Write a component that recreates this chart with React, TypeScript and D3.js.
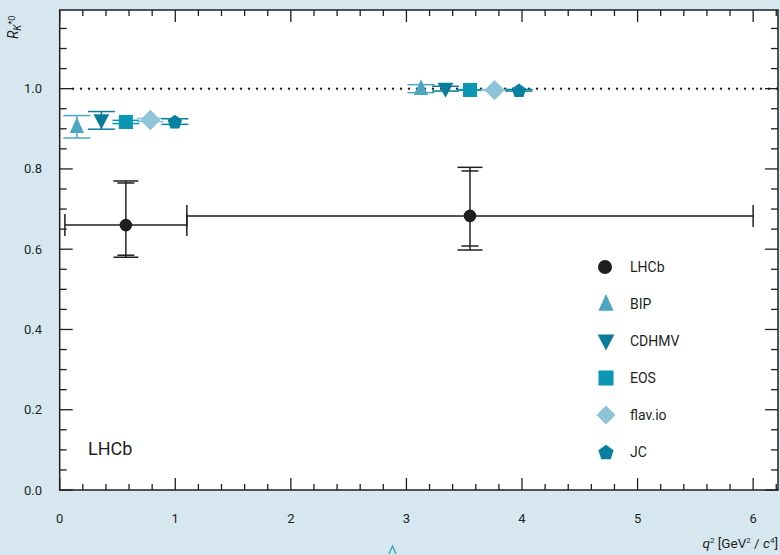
import React from "react";
import * as d3 from "d3";

// ---- data ----
const models = ["BIP", "CDHMV", "EOS", "flav.io", "JC"];
const modelColors = ["#4ca6c0", "#0a7c9a", "#0b96b3", "#8ec3d8", "#05809f"];
const modelShapes = ["triangleUp", "triangleDown", "square", "diamond", "pentagon"];
const lowBinValues = [0.905, 0.921, 0.917, 0.922, 0.918];
const lowBinErrors = [0.028, 0.022, 0.004, 0.004, 0.007];
const centralBinValues = [1.0, 1.0, 0.9968, 0.9964, 0.996];
const centralBinErrors = [0.01, 0.006, 0.0008, 0.0008, 0.002];

const binLow = [0.045, 1.1];
const binHigh = [1.1, 6.0];
const lhcbValues = [0.66, 0.683];
const lhcbStatUp = [0.105, 0.112];
const lhcbStatDown = [0.075, 0.075];
const lhcbTotUp = [0.11, 0.121];
const lhcbTotDown = [0.08, 0.085];

const xTicksMajor = [0, 1, 2, 3, 4, 5, 6];
const yTicksMajor = [0, 0.2, 0.4, 0.6, 0.8, 1.0];

const W = 780, H = 555;
const left = 59.7, right = 778, top = 10, bottom = 490;
const x = d3.scaleLinear().domain([0, 6.215]).range([left, right]);
const y = d3.scaleLinear().domain([0, 1.196]).range([bottom, top]);

const FONT = "Roboto, 'DejaVu Sans', sans-serif";
const INK = "#1f1f1f";

function shapePath(shape: string, s: number): string {
  switch (shape) {
    case "triangleUp": {
      const w = s * 0.95, h = s * 1.05;
      return `M0,${-h * 0.6}L${w / 2},${h * 0.4}L${-w / 2},${h * 0.4}Z`;
    }
    case "triangleDown": {
      const w = s * 1.05, h = s * 1.0;
      return `M0,${h * 0.6}L${w / 2},${-h * 0.4}L${-w / 2},${-h * 0.4}Z`;
    }
    case "square": {
      const a = s * 0.47;
      return `M${-a},${-a}H${a}V${a}H${-a}Z`;
    }
    case "diamond": {
      const a = s * 0.68;
      return `M0,${-a}L${a},0L0,${a}L${-a},0Z`;
    }
    case "pentagon": {
      const r = s * 0.5;
      const pts = d3.range(5).map((i) => {
        const ang = -Math.PI / 2 + (i * 2 * Math.PI) / 5;
        return [r * Math.cos(ang), r * Math.sin(ang) + r * 0.1];
      });
      return "M" + pts.map((p) => p.join(",")).join("L") + "Z";
    }
  }
  return "";
}

function TheoryBin({ center, values, errors }: { center: number; values: number[]; errors: number[] }) {
  const spacing = 0.212;
  return (
    <g>
      {values.map((v, i) => {
        const cx = x(center + (i - 2) * spacing);
        const yHi = y(v + errors[i]);
        const yLo = y(v - errors[i]);
        const c = modelColors[i];
        return (
          <g key={i}>
            <line x1={cx} x2={cx} y1={yHi} y2={yLo} stroke={c} strokeWidth={1.5} />
            <line x1={cx - 13.5} x2={cx + 13.5} y1={yHi} y2={yHi} stroke={c} strokeWidth={1.5} />
            <line x1={cx - 13.5} x2={cx + 13.5} y1={yLo} y2={yLo} stroke={c} strokeWidth={1.5} />
            <path d={shapePath(modelShapes[i], 15)} transform={`translate(${cx},${y(v)})`} fill={c} />
          </g>
        );
      })}
    </g>
  );
}

export default function App() {
  const xMinor = d3.range(0, 6.21, 0.2).filter((v) => Math.abs(v - Math.round(v)) > 1e-6);
  const yMinor = d3.range(0, 1.196, 0.05).filter((v) => Math.abs(v * 5 - Math.round(v * 5)) > 1e-6);

  const legendEntries = [{ name: "LHCb", color: "#1e1e1e", shape: "circle" }].concat(
    models.map((m, i) => ({ name: m, color: modelColors[i], shape: modelShapes[i] }))
  );

  return (
    <svg width={W} height={H} style={{ position: "absolute", left: 0, top: 0, display: "block" }} fontFamily={FONT}>
      <rect x={0} y={0} width={W} height={H} fill="#d6e7ef" />
      <rect x={left} y={top} width={right - left} height={bottom - top} fill="#fff" />

      {/* dotted line at 1.0 */}
      <line x1={x(0.115)} x2={right} y1={y(1)} y2={y(1)} stroke={INK} strokeWidth={2.4}
        strokeDasharray="0 8" strokeLinecap="round" />

      {/* ticks */}
      <g stroke={INK} strokeWidth={1.3}>
        {xTicksMajor.map((t) => (
          <g key={"xm" + t}>
            <line x1={x(t)} x2={x(t)} y1={bottom} y2={bottom - 12} />
            <line x1={x(t)} x2={x(t)} y1={top} y2={top + 12} />
          </g>
        ))}
        {xMinor.map((t) => (
          <g key={"xn" + t}>
            <line x1={x(t)} x2={x(t)} y1={bottom} y2={bottom - 6} />
            <line x1={x(t)} x2={x(t)} y1={top} y2={top + 6} />
          </g>
        ))}
        {yTicksMajor.map((t) => (
          <g key={"ym" + t}>
            <line x1={left} x2={left + 13} y1={y(t)} y2={y(t)} />
            <line x1={right} x2={right - 13} y1={y(t)} y2={y(t)} />
          </g>
        ))}
        {yMinor.map((t) => (
          <g key={"yn" + t}>
            <line x1={left} x2={left + 7} y1={y(t)} y2={y(t)} />
            <line x1={right} x2={right - 7} y1={y(t)} y2={y(t)} />
          </g>
        ))}
      </g>

      {/* frame */}
      <rect x={left} y={top} width={right - left} height={bottom - top} fill="none" stroke={INK} strokeWidth={1.5} />

      {/* tick labels */}
      <g fontSize={13} fill={INK}>
        {xTicksMajor.map((t) => (
          <text key={"xl" + t} x={x(t)} y={523} textAnchor="middle">{t}</text>
        ))}
        {yTicksMajor.map((t) => (
          <text key={"yl" + t} x={42} y={y(t) + 4.5} textAnchor="end">{d3.format(".1f")(t)}</text>
        ))}
      </g>

      {/* axis titles */}
      <text x={right} y={548} textAnchor="end" fontSize={13.5} fill={INK}>
        <tspan fontStyle="italic">q</tspan>
        <tspan fontSize={8} dy={-5}>2</tspan>
        <tspan dy={5}> [GeV</tspan>
        <tspan fontSize={8} dy={-5}>2</tspan>
        <tspan dy={5}> / </tspan>
        <tspan fontStyle="italic">c</tspan>
        <tspan fontSize={8} dy={-5}>4</tspan>
        <tspan dy={5}>]</tspan>
      </text>
      <text transform="translate(18,39) rotate(-90)" fontSize={14} fill={INK} textAnchor="start">
        <tspan fontStyle="italic">R</tspan>
        <tspan fontStyle="italic" fontSize={10} dy={3}>K</tspan>
        <tspan fontSize={9} dy={-6}>*0</tspan>
      </text>

      {/* theory predictions */}
      <TheoryBin center={(binLow[0] + binHigh[0]) / 2} values={lowBinValues} errors={lowBinErrors} />
      <TheoryBin center={(binLow[1] + binHigh[1]) / 2} values={centralBinValues} errors={centralBinErrors} />

      {/* LHCb measurements */}
      <g stroke={INK} strokeWidth={1.5}>
        {lhcbValues.map((v, i) => {
          const cx = x((binLow[i] + binHigh[i]) / 2);
          const cy = y(v);
          return (
            <g key={i}>
              <line x1={x(binLow[i])} x2={x(binHigh[i])} y1={cy} y2={cy} />
              <line x1={x(binLow[i])} x2={x(binLow[i])} y1={cy - 11} y2={cy + 11} />
              <line x1={x(binHigh[i])} x2={x(binHigh[i])} y1={cy - 11} y2={cy + 11} />
              <line x1={cx} x2={cx} y1={y(v + lhcbTotUp[i])} y2={y(v - lhcbTotDown[i])} />
              <line x1={cx - 12.5} x2={cx + 12.5} y1={y(v + lhcbTotUp[i])} y2={y(v + lhcbTotUp[i])} />
              <line x1={cx - 12.5} x2={cx + 12.5} y1={y(v - lhcbTotDown[i])} y2={y(v - lhcbTotDown[i])} />
              <line x1={cx - 8.5} x2={cx + 8.5} y1={y(v + lhcbStatUp[i])} y2={y(v + lhcbStatUp[i])} />
              <line x1={cx - 8.5} x2={cx + 8.5} y1={y(v - lhcbStatDown[i])} y2={y(v - lhcbStatDown[i])} />
              <circle cx={cx} cy={cy} r={6.3} fill="#1e1e1e" stroke="none" />
            </g>
          );
        })}
      </g>

      {/* legend */}
      <g fontSize={14} fill={INK}>
        {legendEntries.map((e, i) => {
          const ly = 267 + i * 37;
          return (
            <g key={e.name} transform={`translate(0,${ly})`}>
              {e.shape === "circle" ? (
                <circle cx={605} cy={0} r={7} fill={e.color} />
              ) : (
                <path d={shapePath(e.shape, e.shape === "diamond" ? 14 : 16)} transform="translate(606,0)" fill={e.color} />
              )}
              <text x={630} y={5}>{e.name}</text>
            </g>
          );
        })}
      </g>

      <text x={88} y={455} fontSize={18} fill={INK}>LHCb</text>

      {/* small caret at bottom */}
      <path d="M389,554 L392.5,546 L396,554" fill="none" stroke="#2d9cc0" strokeWidth={1.2} />
    </svg>
  );
}
